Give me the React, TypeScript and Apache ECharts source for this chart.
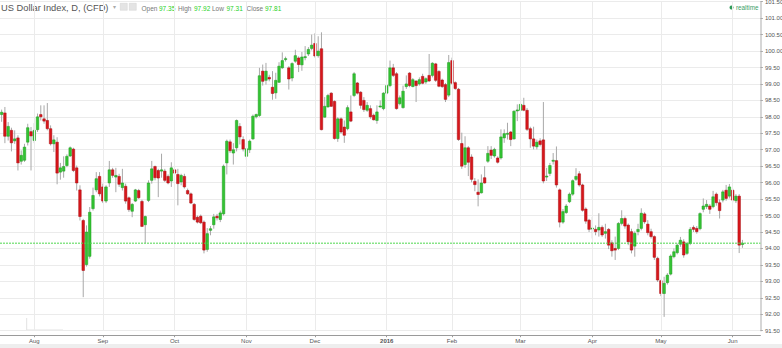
import React, { useEffect, useRef } from "react";
import * as echarts from "echarts";

// ---------- data ----------
const startDate = "2015-07-20";
const endDate = "2016-06-06";
const holidays = ["2015-12-25", "2016-01-01", "2016-03-25"];
const padDates = ["2016-06-07", "2016-06-08", "2016-06-09", "2016-06-10", "2016-06-13"];

const opens = [
  98.07, 98.12, 97.41, 97.59, 97.27, 97.36, 96.65, 96.68, 97.23, 97.55,
  97.28, 97.61, 98.07, 97.94, 97.89, 97.64, 97.18, 97.23, 96.32, 96.35,
  96.52, 96.81, 97.02, 96.45, 95.78, 94.85, 93.51, 93.76, 95.21, 95.78,
  96.19, 95.87, 95.44, 95.99, 96.39, 96.17, 96.19, 95.85, 95.89, 95.54,
  95.13, 95.44, 95.76, 95.43, 94.72, 95.46, 96.07, 96.49, 96.37, 96.35,
  96.35, 96.19, 96.05, 96.39, 96.25, 96.02, 96.19, 95.76, 95.66, 95.34,
  94.95, 94.98, 94.80, 93.97, 94.55, 94.72, 94.98, 94.88, 95.05, 96.60,
  97.24, 96.90, 97.06, 97.71, 97.31, 96.80, 97.00, 97.33, 98.00, 98.04,
  99.39, 99.11, 99.20, 98.90, 98.73, 99.05, 99.49, 99.74, 99.49, 99.18,
  99.69, 99.79, 99.58, 99.80, 99.91, 100.08, 100.23, 99.86, 100.07, 97.99,
  98.30, 98.72, 98.47, 97.34, 97.94, 97.69, 97.64, 98.15, 98.65, 99.03,
  98.75, 98.50, 98.20, 98.25, 98.05, 97.89, 98.30, 98.25, 98.72, 98.95,
  99.49, 99.31, 98.40, 98.28, 98.92, 99.33, 98.92, 99.09, 99.00, 99.23,
  99.06, 99.26, 99.26, 99.61, 99.38, 99.12, 98.98, 98.66, 99.71, 99.04,
  98.84, 97.19, 96.55, 97.06, 96.78, 96.04, 95.71, 95.69, 96.15, 96.65,
  96.99, 96.81, 96.75, 96.75, 97.36, 97.47, 97.54, 97.33, 98.18, 98.20,
  98.35, 98.20, 97.64, 97.33, 97.09, 97.27, 97.30, 96.17, 96.28, 96.65,
  96.67, 95.78, 94.80, 95.09, 95.42, 95.65, 96.10, 96.27, 95.93, 95.20,
  94.86, 94.59, 94.58, 94.56, 94.64, 94.46, 94.58, 94.17, 94.00, 94.00,
  94.76, 94.91, 94.71, 94.51, 94.07, 94.51, 94.61, 95.05, 94.74, 94.51,
  94.36, 93.70, 93.02, 92.63, 92.96, 93.22, 93.75, 93.87, 94.13, 94.20,
  93.85, 94.15, 94.64, 94.61, 94.60, 95.19, 95.27, 95.29, 95.27, 95.65,
  95.39, 95.47, 95.77, 95.59, 95.77, 95.45, 95.59, 94.12,
];
const highs = [
  98.22, 98.30, 97.84, 97.67, 97.59, 97.44, 96.98, 97.18, 97.79, 97.69,
  97.81, 98.10, 98.35, 98.35, 98.42, 97.74, 97.44, 97.38, 96.60, 96.80,
  96.86, 97.10, 97.06, 96.52, 95.92, 94.90, 94.70, 95.26, 95.85, 96.32,
  96.32, 95.97, 95.92, 96.66, 96.45, 96.45, 96.27, 96.42, 95.97, 95.58,
  95.38, 95.81, 95.81, 95.48, 95.00, 96.07, 96.66, 96.52, 96.42, 96.88,
  96.42, 96.25, 96.62, 96.42, 96.42, 96.27, 96.27, 95.82, 95.70, 95.38,
  95.00, 95.03, 94.85, 94.62, 94.68, 95.05, 95.05, 95.15, 96.55, 97.31,
  97.31, 97.20, 97.92, 97.81, 97.41, 97.20, 97.31, 98.07, 98.10, 99.49,
  99.59, 99.64, 99.28, 99.39, 99.34, 99.66, 99.96, 99.83, 99.54, 99.66,
  100.04, 99.84, 99.97, 100.15, 100.12, 100.50, 100.54, 100.45, 100.57, 98.60,
  98.70, 98.75, 98.50, 97.99, 97.99, 97.89, 98.35, 98.65, 99.36, 99.06,
  98.78, 98.60, 98.45, 98.35, 98.10, 98.35, 98.50, 98.75, 99.00, 99.71,
  99.61, 99.36, 98.65, 98.95, 99.26, 99.36, 99.18, 99.11, 99.20, 99.31,
  99.20, 99.91, 99.66, 99.64, 99.42, 99.16, 99.03, 99.88, 99.80, 99.08,
  98.88, 97.52, 97.41, 97.11, 96.86, 96.14, 96.10, 96.25, 96.50, 97.11,
  97.11, 97.06, 96.80, 97.62, 97.62, 97.82, 97.57, 98.20, 98.38, 98.58,
  98.58, 98.27, 97.70, 97.70, 97.31, 97.35, 98.45, 96.45, 96.60, 96.90,
  97.10, 95.82, 95.20, 95.35, 95.70, 96.10, 96.44, 96.35, 95.97, 95.25,
  94.90, 94.96, 94.70, 95.07, 94.70, 94.75, 94.62, 94.25, 94.36, 94.80,
  95.16, 94.97, 94.76, 94.60, 94.52, 94.75, 95.22, 95.10, 94.86, 94.60,
  94.40, 93.75, 93.05, 93.14, 93.25, 93.82, 94.00, 94.15, 94.35, 94.28,
  94.20, 94.65, 94.70, 94.68, 95.10, 95.52, 95.47, 95.35, 95.75, 95.70,
  95.49, 95.78, 95.93, 95.96, 95.82, 95.65, 95.65, 94.26,
];
const lows = [
  97.85, 97.20, 97.28, 96.95, 97.18, 96.37, 96.55, 96.63, 97.13, 96.37,
  97.20, 97.54, 97.89, 97.79, 97.59, 97.13, 96.93, 95.95, 96.09, 96.15,
  96.47, 96.78, 96.32, 95.76, 94.85, 92.52, 93.45, 93.69, 95.15, 95.71,
  95.58, 95.38, 95.38, 95.87, 96.15, 95.71, 95.87, 95.76, 95.36, 95.11,
  94.95, 95.41, 95.51, 94.65, 94.16, 95.41, 95.97, 96.07, 95.56, 96.15,
  96.02, 95.95, 95.87, 96.22, 95.31, 95.92, 95.82, 95.63, 95.35, 94.84,
  94.76, 94.74, 93.85, 93.90, 94.40, 94.60, 94.85, 94.80, 95.00, 96.25,
  96.90, 96.55, 96.95, 97.16, 96.95, 96.70, 96.90, 97.30, 97.95, 98.00,
  98.95, 98.98, 99.08, 98.52, 98.55, 99.03, 99.46, 99.68, 98.83, 99.08,
  99.64, 99.36, 99.40, 99.72, 99.85, 100.02, 99.80, 99.80, 97.59, 97.97,
  98.28, 98.30, 97.31, 97.24, 97.49, 97.21, 97.59, 97.84, 98.60, 98.68,
  98.25, 98.15, 98.15, 97.94, 97.89, 97.79, 98.28, 98.20, 98.68, 98.90,
  99.21, 98.22, 98.35, 98.25, 98.85, 98.90, 98.90, 98.45, 98.95, 98.99,
  99.00, 99.06, 99.20, 99.06, 98.90, 98.88, 98.45, 98.60, 98.98, 98.82,
  97.27, 96.42, 96.45, 96.20, 96.01, 95.74, 95.28, 95.67, 95.97, 96.60,
  96.72, 96.76, 96.58, 96.70, 97.21, 97.31, 97.11, 97.31, 97.87, 98.17,
  98.17, 97.57, 97.06, 97.01, 97.01, 97.10, 95.98, 96.05, 96.20, 96.55,
  95.85, 94.64, 94.75, 95.05, 95.38, 95.60, 96.05, 95.88, 95.12, 94.75,
  94.50, 94.30, 94.40, 94.36, 94.35, 94.30, 93.98, 93.75, 93.65, 93.95,
  94.70, 94.60, 94.10, 93.85, 93.75, 94.40, 94.55, 94.75, 94.40, 94.30,
  93.65, 92.98, 92.55, 91.92, 92.90, 93.18, 93.70, 93.82, 94.05, 93.72,
  93.80, 94.10, 94.50, 94.45, 94.55, 95.10, 95.20, 95.05, 95.22, 95.30,
  94.91, 95.40, 95.45, 95.52, 95.40, 95.38, 93.86, 94.02,
];
const closes = [
  98.14, 97.41, 97.71, 97.21, 97.33, 96.60, 96.83, 97.08, 97.67, 97.42,
  97.59, 98.00, 98.00, 97.87, 97.64, 97.18, 97.30, 96.29, 96.45, 96.49,
  96.80, 97.06, 96.37, 95.99, 94.97, 93.33, 94.50, 95.10, 95.61, 96.12,
  95.66, 95.44, 95.87, 96.39, 96.22, 96.22, 95.95, 95.99, 95.44, 95.18,
  95.34, 95.78, 95.54, 94.67, 94.97, 95.99, 96.42, 96.15, 96.14, 96.39,
  96.07, 95.99, 96.45, 96.29, 95.97, 96.22, 95.87, 95.66, 95.38, 94.88,
  94.80, 94.78, 93.95, 94.45, 94.60, 94.96, 94.93, 95.08, 96.50, 97.26,
  96.97, 97.00, 97.89, 97.39, 97.02, 97.03, 97.26, 98.02, 98.07, 99.25,
  99.08, 99.39, 99.15, 98.71, 99.11, 99.54, 99.71, 99.77, 99.15, 99.62,
  99.86, 99.59, 99.82, 99.83, 100.05, 100.18, 99.85, 100.00, 97.61, 98.32,
  98.65, 98.32, 97.34, 97.94, 97.54, 97.44, 98.28, 97.87, 99.31, 98.72,
  98.35, 98.22, 98.35, 98.00, 97.91, 98.15, 98.33, 98.72, 98.95, 99.49,
  99.26, 98.25, 98.58, 98.78, 99.00, 98.95, 99.13, 98.95, 99.13, 99.02,
  99.16, 99.09, 99.63, 99.11, 98.93, 98.92, 98.53, 99.65, 99.02, 98.86,
  97.31, 96.50, 97.06, 96.62, 96.10, 95.94, 95.64, 95.99, 95.99, 96.89,
  96.83, 97.01, 96.62, 97.39, 97.49, 97.50, 97.31, 98.17, 98.21, 98.38,
  98.20, 97.62, 97.33, 97.11, 97.23, 97.16, 96.05, 96.20, 96.52, 96.68,
  95.93, 94.80, 95.12, 95.29, 95.65, 96.06, 96.19, 95.93, 95.16, 94.83,
  94.58, 94.62, 94.51, 94.64, 94.41, 94.51, 94.10, 93.93, 93.95, 94.76,
  94.91, 94.68, 94.20, 93.95, 94.46, 94.58, 95.07, 94.81, 94.48, 94.36,
  93.73, 93.04, 92.63, 92.94, 93.19, 93.77, 93.90, 94.10, 94.25, 93.80,
  94.15, 94.58, 94.58, 94.51, 95.06, 95.29, 95.34, 95.19, 95.57, 95.39,
  95.15, 95.72, 95.52, 95.87, 95.47, 95.59, 94.10, 94.16,
];

const lastPrice = 94.16;
const quoteLabels = ["Open", "High", "Low", "Close"];
const quoteValues = ["97.35", "97.92", "97.31", "97.81"];
const monthNames = ["Jan", "Feb", "Mar", "Apr", "May", "Jun", "Jul", "Aug", "Sep", "Oct", "Nov", "Dec"];

function buildDates(): string[] {
  const out: string[] = [];
  const d = new Date(startDate + "T12:00:00Z");
  const end = new Date(endDate + "T12:00:00Z");
  while (d <= end) {
    const wd = d.getUTCDay();
    const s = d.toISOString().slice(0, 10);
    if (wd !== 0 && wd !== 6 && holidays.indexOf(s) < 0) out.push(s);
    d.setUTCDate(d.getUTCDate() + 1);
  }
  return out;
}

export default function App() {
  const ref = useRef<HTMLDivElement>(null);
  useEffect(() => {
    if (!ref.current) return;
    const chart = echarts.init(ref.current, null, { renderer: "svg" });
    const dataDates = buildDates();
    const dates = dataDates.concat(padDates);
    const monthStart: boolean[] = dates.map((s, i) => i > 0 && s.slice(5, 7) !== dates[i - 1].slice(5, 7));
    const monthStartDates = dates.filter((_, i) => monthStart[i]);
    const data = dataDates.map((_, i) => [i, opens[i], closes[i], lows[i], highs[i]]);

    const FONT = "Arial, 'Liberation Sans', sans-serif";
    const PRICE_GREEN = "#4fd84f";
    const graphics: any[] = [
      { type: "text", left: 1, top: 3, style: { text: "US Dollar Index, D, (CFD)", fontSize: 9.3, fontFamily: FONT, fill: "#555" } },
      { type: "text", left: 112.5, top: 4, style: { text: "▾", fontSize: 6, fontFamily: FONT, fill: "#aaa" } },
      { type: "rect", left: 120, top: 3, shape: { width: 7, height: 7 }, style: { fill: "#e4e4e4", stroke: "#d0d0d0", lineWidth: 0.5 } },
      { type: "rect", left: 129, top: 3, shape: { width: 7, height: 7 }, style: { fill: "#e4e4e4", stroke: "#d0d0d0", lineWidth: 0.5 } },
      { type: "circle", shape: { cx: 731.5, cy: 7.5, r: 2 }, style: { fill: "#2e9a57" } },
      { type: "text", left: 736, top: 4.5, style: { text: "realtime", fontSize: 6.3, fontFamily: FONT, fill: "#3aa066" } },
      { type: "rect", left: 0, top: 344, shape: { width: 782, height: 4 }, style: { fill: "#eeeeee" } },
      { type: "polyline", shape: { points: [[26.7, 318], [26.7, 330], [63, 330]] }, style: { stroke: "#e2e2e2", lineWidth: 1, fill: null } },
    ];
    const qx = [141.5, 159, 178, 194, 212, 226.5, 246.5, 265];
    quoteLabels.forEach((l, i) => {
      graphics.push({ type: "text", left: qx[i * 2], top: 5, style: { text: l, fontSize: 6.5, fontFamily: FONT, fill: "#777" } });
      graphics.push({ type: "text", left: qx[i * 2 + 1], top: 5, style: { text: quoteValues[i], fontSize: 6.5, fontFamily: FONT, fill: "#1fd11f" } });
    });

    chart.setOption({
      animation: false,
      backgroundColor: "#ffffff",
      grid: { left: 0, top: 1.7, width: 760.4, height: 329, containLabel: false, outerBoundsMode: "none" } as any,
      xAxis: {
        type: "category",
        data: dates,
        boundaryGap: true,
        offset: 4.5,
        axisLine: { lineStyle: { color: "#9a9a9a", width: 1 } },
        axisTick: { show: true, alignWithLabel: true, length: 2, interval: (i: number) => monthStart[i], lineStyle: { color: "#9a9a9a" } },
        axisLabel: {
          interval: (i: number) => monthStart[i],
          fontSize: 6,
          fontFamily: FONT,
          color: "#555",
          margin: 3,
          formatter: (v: string) => {
            const m = parseInt(v.slice(5, 7), 10) - 1;
            return m === 0 ? "{b|" + v.slice(0, 4) + "}" : monthNames[m];
          },
          rich: { b: { fontWeight: "bold", fontSize: 6, fontFamily: FONT, color: "#555" } },
        },
        splitLine: { show: false },
      },
      yAxis: {
        type: "value",
        position: "right",
        min: 91.5,
        max: 101.5,
        interval: 0.5,
        axisLine: { show: true, lineStyle: { color: "#c8c8c8", width: 1.5 } },
        axisTick: { show: true, length: 2.5, lineStyle: { color: "#aaa" } },
        axisLabel: { fontSize: 6, fontFamily: FONT, color: "#555", margin: 4.5, formatter: (v: number) => v.toFixed(2) },
        splitLine: { show: true, lineStyle: { color: "#ebebeb", width: 1 } },
      },
      graphic: graphics,
      series: [
        {
          type: "line",
          data: [],
          z: 1,
          silent: true,
          markLine: {
            silent: true,
            symbol: ["none", "none"],
            label: { show: false },
            lineStyle: { color: "#ebebeb", type: "solid", width: 1 },
            data: monthStartDates.map((d) => ({ xAxis: d })),
          },
        },
        {
          type: "custom",
          z: 3,
          clip: false,
          encode: { x: 0, y: [1, 2, 3, 4] },
          data,
          renderItem: (params: any, api: any) => {
            const i = api.value(0);
            const o = api.value(1);
            const c = api.value(2);
            const l = api.value(3);
            const h = api.value(4);
            const pO = api.coord([i, o]);
            const pC = api.coord([i, c]);
            const pL = api.coord([i, l]);
            const pH = api.coord([i, h]);
            const bw = api.size([1, 0])[0] * 0.78;
            const up = c >= o;
            const top = Math.min(pO[1], pC[1]);
            const bh = Math.max(Math.abs(pO[1] - pC[1]), 1);
            const x = pO[0];
            return {
              type: "group",
              children: [
                { type: "line", shape: { x1: x, y1: pH[1], x2: x, y2: pL[1] }, style: { stroke: "#a8a8a8", lineWidth: 1 } },
                {
                  type: "rect",
                  shape: { x: x - bw / 2, y: top, width: bw, height: bh },
                  style: up
                    ? { fill: "#33c433", stroke: "#1e9a1e", lineWidth: 0.5 }
                    : { fill: "#d8161b", stroke: "#a80d10", lineWidth: 0.5 },
                },
              ],
            };
          },
        },
        {
          type: "custom",
          z: 5,
          silent: true,
          clip: false,
          data: [[lastPrice]],
          encode: { y: 0 },
          renderItem: (params: any, api: any) => {
            const p = api.coord([0, api.value(0)]);
            const cs = params.coordSys;
            return {
              type: "line",
              shape: { x1: cs.x, y1: p[1], x2: cs.x + cs.width, y2: p[1] },
              style: { stroke: PRICE_GREEN, lineWidth: 1, lineDash: [2, 1] },
            };
          },
          markLine: {
            silent: true,
            symbol: ["none", "none"],
            lineStyle: { opacity: 0, width: 0 },
            label: {
              show: true,
              position: "end",
              distance: 1,
              formatter: lastPrice.toFixed(2),
              backgroundColor: "#22e022",
              color: "#1a3a1a",
              fontSize: 6,
              fontFamily: FONT,
              padding: [1, 3, 1, 3],
            },
            data: [{ yAxis: lastPrice }],
          },
        },
      ],
    });
    return () => chart.dispose();
  }, []);
  return <div ref={ref} style={{ position: "absolute", left: 0, top: 0, width: 782, height: 348, background: "#fff" }} />;
}
